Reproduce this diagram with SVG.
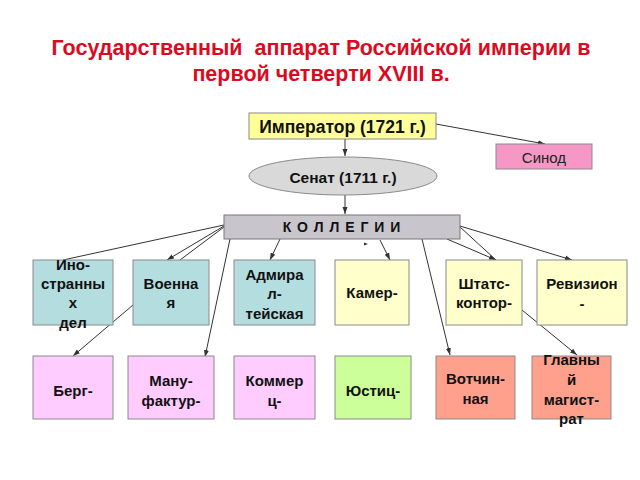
<svg xmlns="http://www.w3.org/2000/svg" width="640" height="480" viewBox="0 0 640 480">
<style>
text{font-family:"Liberation Sans",Arial,sans-serif;text-anchor:middle;dominant-baseline:central}
.t{fill:#dc0a1e;font-size:21.5px;font-weight:bold}
.b{font-size:15px;font-weight:bold;fill:#111}
.box{stroke:#8a8a8a;stroke-width:1}
.c{stroke:#333;stroke-width:1;fill:none}
.a{marker-end:url(#ar)}
</style>
<defs>
<marker id="ar" markerWidth="8" markerHeight="8" refX="7" refY="4" orient="auto" markerUnits="userSpaceOnUse">
<path d="M0,1.5 L7,4 L0,6.5 Z" fill="#333"/>
</marker>
</defs>
<text class="t" x="321" y="48" xml:space="preserve">Государственный  аппарат Российской империи в</text>
<text class="t" x="321" y="74">первой четверти XVIII в.</text>

<g id="connectors">
<line class="c a" x1="345" y1="139" x2="345" y2="156"/>
<line class="c a" x1="436" y1="124" x2="545" y2="144"/>
<line class="c a" x1="345" y1="195" x2="345" y2="214"/>
<line class="c" x1="224" y1="225" x2="63" y2="260"/>
<line class="c a" x1="224" y1="226" x2="167" y2="260"/>
<line class="c" x1="224" y1="227" x2="180" y2="260"/>
<line class="c a" x1="230" y1="239" x2="205" y2="357"/>
<line class="c a" x1="280" y1="239" x2="270" y2="260"/>
<line class="c a" x1="133" y1="305" x2="73" y2="356"/>
<line class="c a" x1="380" y1="240" x2="390" y2="260"/>
<line class="c a" x1="422" y1="239" x2="450" y2="355"/>
<line class="c a" x1="447" y1="239" x2="496" y2="260"/>
<line class="c" x1="460" y1="227" x2="496" y2="260"/>
<line class="c a" x1="460" y1="226" x2="572" y2="260"/>
<line class="c a" x1="522" y1="310" x2="577" y2="355"/>
<path d="M364,242.5 L368,244 L364,245.5 Z" fill="#333"/>
</g>

<g id="emperor"><rect class="box" x="249" y="113" width="187" height="26" fill="#ffff99"/><text class="b" x="342.5" y="127" style="font-size:17.5px">Император (1721 г.)</text></g>
<g id="synod"><rect class="box" x="496" y="144" width="96" height="25" fill="#f598c6"/><text x="544" y="157" style="font-size:15px;fill:#222">Синод</text></g>
<g id="senate"><ellipse class="box" cx="343" cy="176" rx="94" ry="19" fill="#d9d9d9"/><text class="b" x="343" y="177" style="font-size:15.5px">Сенат (1711 г.)</text></g>
<g id="collegia"><rect x="224" y="215" width="236" height="24" fill="#c8c6cc" stroke="#777"/><text class="b" x="342" y="227" style="letter-spacing:1px;font-size:14px">К О Л Л Е Г И И</text></g>

<g id="foreign"><rect class="box" x="33" y="260" width="80" height="65" fill="#b4dde0"/><text class="b" x="73" y="264">Ино-</text><text class="b" x="73" y="283">странны</text><text class="b" x="73" y="302">х</text><text class="b" x="73" y="322">дел</text></g>
<g id="military"><rect class="box" x="133" y="260" width="76" height="65" fill="#b4dde0"/><text class="b" x="171" y="283">Военна</text><text class="b" x="171" y="302">я</text></g>
<g id="admiralty"><rect class="box" x="234" y="260" width="81" height="65" fill="#b4dde0"/><text class="b" x="274.5" y="274">Адмира</text><text class="b" x="274.5" y="293">л-</text><text class="b" x="274.5" y="313">тейская</text></g>
<g id="kamer"><rect class="box" x="335" y="260" width="74" height="65" fill="#ffffcc"/><text class="b" x="372" y="292">Камер-</text></g>
<g id="shtats"><rect class="box" x="446" y="260" width="76" height="65" fill="#ffffcc"/><text class="b" x="484" y="283">Штатс-</text><text class="b" x="484" y="302">контор-</text></g>
<g id="revizion"><rect class="box" x="537" y="260" width="90" height="65" fill="#ffffcc"/><text class="b" x="582" y="283">Ревизион</text><text class="b" x="582" y="303">-</text></g>

<g id="berg"><rect class="box" x="33" y="356" width="80" height="63" fill="#ffccff"/><text class="b" x="73" y="390">Берг-</text></g>
<g id="manufaktur"><rect class="box" x="128" y="356" width="86" height="63" fill="#ffccff"/><text class="b" x="171" y="380">Ману-</text><text class="b" x="171" y="400">фактур-</text></g>
<g id="kommerts"><rect class="box" x="234" y="356" width="81" height="63" fill="#ffccff"/><text class="b" x="274.5" y="380">Коммер</text><text class="b" x="274.5" y="400">ц-</text></g>
<g id="yustits"><rect class="box" x="335" y="356" width="76" height="63" fill="#ccff99"/><text class="b" x="373" y="390">Юстиц-</text></g>
<g id="votchin"><rect class="box" x="436" y="356" width="79" height="63" fill="#ffa08c"/><text class="b" x="475.5" y="378">Вотчин-</text><text class="b" x="475.5" y="398">ная</text></g>
<g id="magistrat"><rect class="box" x="532" y="356" width="79" height="63" fill="#ffa08c"/><text class="b" x="571.5" y="359">Главны</text><text class="b" x="571.5" y="379">й</text><text class="b" x="571.5" y="399">магист-</text><text class="b" x="571.5" y="418">рат</text></g>
</svg>
